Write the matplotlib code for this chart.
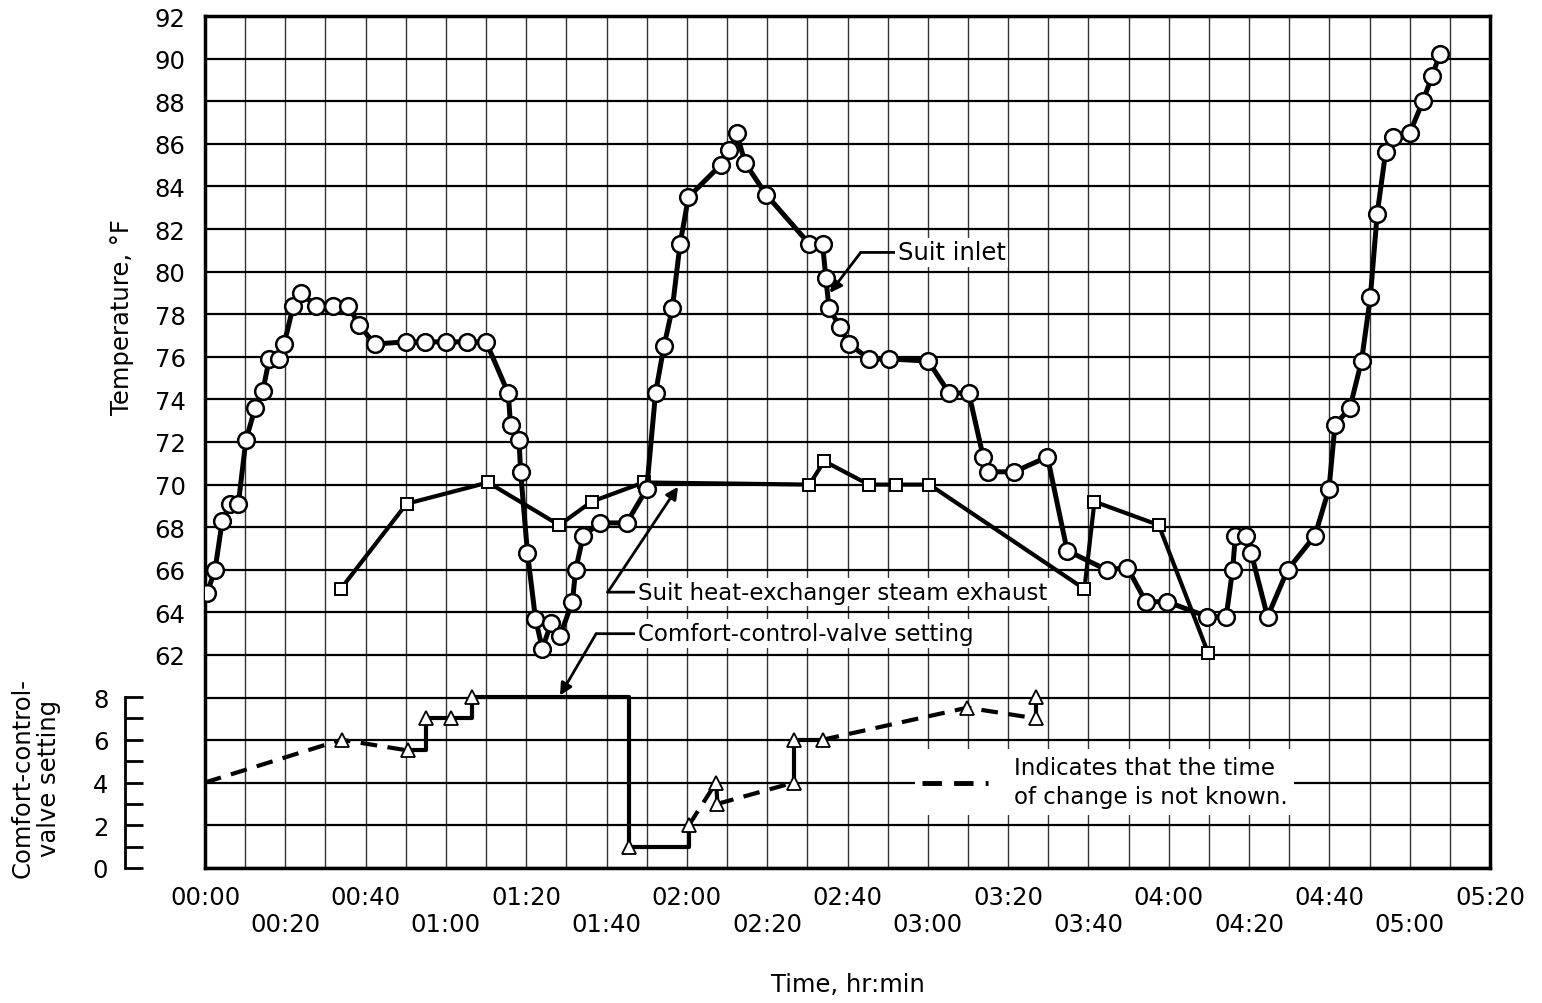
import matplotlib
matplotlib.use("Agg")
import matplotlib.pyplot as plt
from matplotlib.lines import Line2D
import numpy as np

# Suit inlet temperature (minutes from 00:00, deg F)
suit_inlet_t = [0.5, 2.5, 4.3, 6.2, 8.3, 10.2, 12.5, 14.4, 16.0, 18.5,
                19.7, 22.0, 23.8, 27.6, 31.9, 35.7, 38.3, 42.3, 50.0, 54.8,
                60.0, 65.2, 70.0, 75.5, 76.1, 78.2, 78.6, 80.3, 82.3, 84.0,
                86.2, 88.4, 91.5, 92.3, 94.2, 98.4, 105.0, 110.0, 112.2, 114.3,
                116.4, 118.3, 120.4, 128.4, 130.6, 132.4, 134.5, 139.8, 150.5, 153.8,
                154.6, 155.4, 158.1, 160.4, 165.4, 170.4, 180.1, 185.3, 190.2, 193.8,
                195.0, 201.5, 209.8, 214.7, 224.5, 229.7, 234.3, 239.6, 249.6, 254.3,
                255.9, 256.6, 259.2, 260.5, 264.6, 269.6, 276.4, 279.9, 281.4, 285.1,
                288.0, 290.2, 291.9, 294.0, 295.8, 300.0, 303.3, 305.6, 307.5]
suit_inlet_v = [64.9, 66.0, 68.3, 69.1, 69.1, 72.1, 73.6, 74.4, 75.9, 75.9,
                76.6, 78.4, 79.0, 78.4, 78.4, 78.4, 77.5, 76.6, 76.7, 76.7,
                76.7, 76.7, 76.7, 74.3, 72.8, 72.1, 70.6, 66.8, 63.7, 62.3,
                63.5, 62.9, 64.5, 66.0, 67.6, 68.2, 68.2, 69.8, 74.3, 76.5,
                78.3, 81.3, 83.5, 85.0, 85.7, 86.5, 85.1, 83.6, 81.3, 81.3,
                79.7, 78.3, 77.4, 76.6, 75.9, 75.9, 75.8, 74.3, 74.3, 71.3,
                70.6, 70.6, 71.3, 66.9, 66.0, 66.1, 64.5, 64.5, 63.8, 63.8,
                66.0, 67.6, 67.6, 66.8, 63.8, 66.0, 67.6, 69.8, 72.8, 73.6,
                75.8, 78.8, 82.7, 85.6, 86.3, 86.5, 88.0, 89.2, 90.2]

# Suit heat-exchanger steam exhaust
steam_t = [33.8, 50.2, 70.5, 88.2, 96.3, 109.2, 150.5, 154.2, 165.3, 172.0,
           180.4, 219.0, 221.5, 237.5, 249.8]
steam_v = [65.1, 69.1, 70.1, 68.1, 69.2, 70.1, 70.0, 71.1, 70.0, 70.0,
           70.0, 65.1, 69.2, 68.1, 62.1]

# Comfort-control-valve setting (path vertices)
comfort_t = [0, 34, 50.5, 55, 55, 61.3, 66.5, 66.5, 105.6, 105.6,
             120.5, 120.5, 127.3, 127.6, 146.7, 146.7, 153.8, 189.8, 206.9, 206.9]
comfort_v = [4, 6, 5.5, 5.5, 7, 7, 7, 8, 8, 1,
             1, 2, 4, 3, 4, 6, 6, 7.5, 7.0, 8.0]
comfort_marked = [0, 1, 1, 0, 1, 1, 0, 1, 0, 1, 0, 1, 1, 1, 1, 1, 1, 1, 1, 1]
# 1 = time of change not known (dashed segment)
comfort_dashed = [1, 1, 0, 0, 0, 0, 0, 0, 0, 0, 0, 1, 0, 1, 0, 0, 1, 1, 0]

x_ticks = np.arange(0, 321, 20)
x_labels = ['%02d:%02d' % (m // 60, m % 60) for m in x_ticks]

W_PX, H_PX = 1542, 1004
fig = plt.figure(figsize=(W_PX / 100, H_PX / 100), dpi=100)
L, R, T, Bt = 205, 1490, 17, 869
ax = fig.add_axes([L / W_PX, 1 - Bt / H_PX, (R - L) / W_PX, (Bt - T) / H_PX])

ax.set_xlim(0, 320)
ax.set_ylim(52, 92)
ax.set_xticks(x_ticks)
ax.set_xticklabels([lab if i % 2 == 0 else '\n' + lab for i, lab in enumerate(x_labels)])
ax.set_xticks(np.arange(0, 321, 10), minor=True)
ax.set_yticks(np.arange(62, 93, 2))
ax.set_yticks(np.arange(52, 62, 2), minor=True)
ax.tick_params(which='both', length=0)
ax.tick_params(axis='x', labelsize=17.5, pad=12)
ax.tick_params(axis='y', labelsize=17.5, pad=14)
for lab in ax.get_xticklabels():
    lab.set_linespacing(1.2)
ax.grid(which='both', axis='x', color='#333333', lw=1.0, zorder=0)
ax.grid(which='both', axis='y', color='black', lw=1.6, zorder=0)
ax.set_axisbelow(True)
for s in ax.spines.values():
    s.set_linewidth(2.5)

ax.plot(steam_t, steam_v, color='black', lw=3.0, marker='s', ms=9,
        mfc='white', mec='black', mew=1.4, zorder=3)
ax.plot(suit_inlet_t, suit_inlet_v, color='black', lw=3.6, marker='o', ms=12,
        mfc='white', mec='black', mew=1.8, zorder=4)

# comfort-control axis in the lower band
ax2 = fig.add_axes([L / W_PX, 1 - Bt / H_PX, (R - L) / W_PX, 171 / H_PX])
ax2.set_xlim(0, 320)
ax2.set_ylim(0, 8)
ax2.patch.set_visible(False)
for k in ['top', 'right', 'bottom']:
    ax2.spines[k].set_visible(False)
ax2.spines['left'].set_position(('outward', 57.6))
ax2.spines['left'].set_bounds(0, 8)
ax2.spines['left'].set_linewidth(2.0)
ax2.set_xticks([])
ax2.set_yticks([0, 2, 4, 6, 8])
ax2.set_yticks([1, 3, 5, 7], minor=True)
ax2.tick_params(axis='y', which='both', direction='in', length=13, width=2.0,
                labelsize=17.5, pad=12)

# draw runs of same line style
i = 0
while i < len(comfort_dashed):
    j = i
    while j + 1 < len(comfort_dashed) and comfort_dashed[j + 1] == comfort_dashed[i]:
        j += 1
    ls = (0, (4, 2.5)) if comfort_dashed[i] else '-'
    ax2.plot(comfort_t[i:j + 2], comfort_v[i:j + 2], color='black', lw=3.0,
             ls=ls, zorder=3, clip_on=False)
    i = j + 1
mt = [t for t, m in zip(comfort_t, comfort_marked) if m]
mv = [v for v, m in zip(comfort_v, comfort_marked) if m]
ax2.plot(mt, mv, ls='none', marker='^', ms=10, mfc='white', mec='black',
         mew=1.3, zorder=4, clip_on=False)

handle = Line2D([], [], color='black', lw=3.5, ls=(0, (4, 2.5)))
leg = ax2.legend([handle], ['Indicates that the time\nof change is not known.'],
                 loc='upper left', bbox_to_anchor=(915 / W_PX, 1 - 750 / H_PX),
                 bbox_transform=fig.transFigure, fontsize=16.5, frameon=True,
                 handlelength=2.9, handletextpad=1.1, borderpad=0.3,
                 fancybox=False, borderaxespad=0)
leg.get_texts()[0].set_linespacing(1.35)
leg.get_frame().set_edgecolor('none')
leg.get_frame().set_facecolor('white')
leg.get_frame().set_alpha(1)

# annotations
box = dict(facecolor='white', edgecolor='none', pad=2)
ax.annotate('Suit inlet', xy=(163.3, 80.9), xytext=(172.5, 80.9), fontsize=17.5,
            ha='left', va='center', bbox=box, zorder=6,
            arrowprops=dict(arrowstyle='-', lw=2, color='black', shrinkA=0, shrinkB=0))
ax.annotate('', xy=(155.6, 79.0), xytext=(163.3, 80.9),
            arrowprops=dict(arrowstyle='-|>', lw=2, color='black', shrinkA=0, shrinkB=0,
                            mutation_scale=18))
ax.annotate('Suit heat-exchanger steam exhaust', xy=(100.3, 64.95), xytext=(107.8, 64.95),
            fontsize=16.5, ha='left', va='center', bbox=box, zorder=6,
            arrowprops=dict(arrowstyle='-', lw=2, color='black', shrinkA=0, shrinkB=0))
ax.annotate('', xy=(117.8, 69.9), xytext=(100.3, 64.95),
            arrowprops=dict(arrowstyle='-|>', lw=2, color='black', shrinkA=0, shrinkB=0,
                            mutation_scale=18))
ax.annotate('Comfort-control-valve setting', xy=(97.4, 63.0), xytext=(107.8, 63.0),
            fontsize=16.5, ha='left', va='center', bbox=box, zorder=6,
            arrowprops=dict(arrowstyle='-', lw=2, color='black', shrinkA=0, shrinkB=0))
ax.annotate('', xy=(88.4, 60.1), xytext=(97.4, 63.0),
            arrowprops=dict(arrowstyle='-|>', lw=2, color='black', shrinkA=0, shrinkB=0,
                            mutation_scale=18))

fig.text(122 / W_PX, 1 - 317 / H_PX, 'Temperature, °F', rotation=90,
         ha='center', va='center', fontsize=17.5)
fig.text(36 / W_PX, 1 - 778 / H_PX, 'Comfort-control-\nvalve setting', rotation=90,
         ha='center', va='center', fontsize=17.5, linespacing=1.15)
fig.text(848 / W_PX, 1 - 985 / H_PX, 'Time, hr:min', ha='center', va='center',
         fontsize=17.5)

fig.savefig('out.png', dpi=100)
